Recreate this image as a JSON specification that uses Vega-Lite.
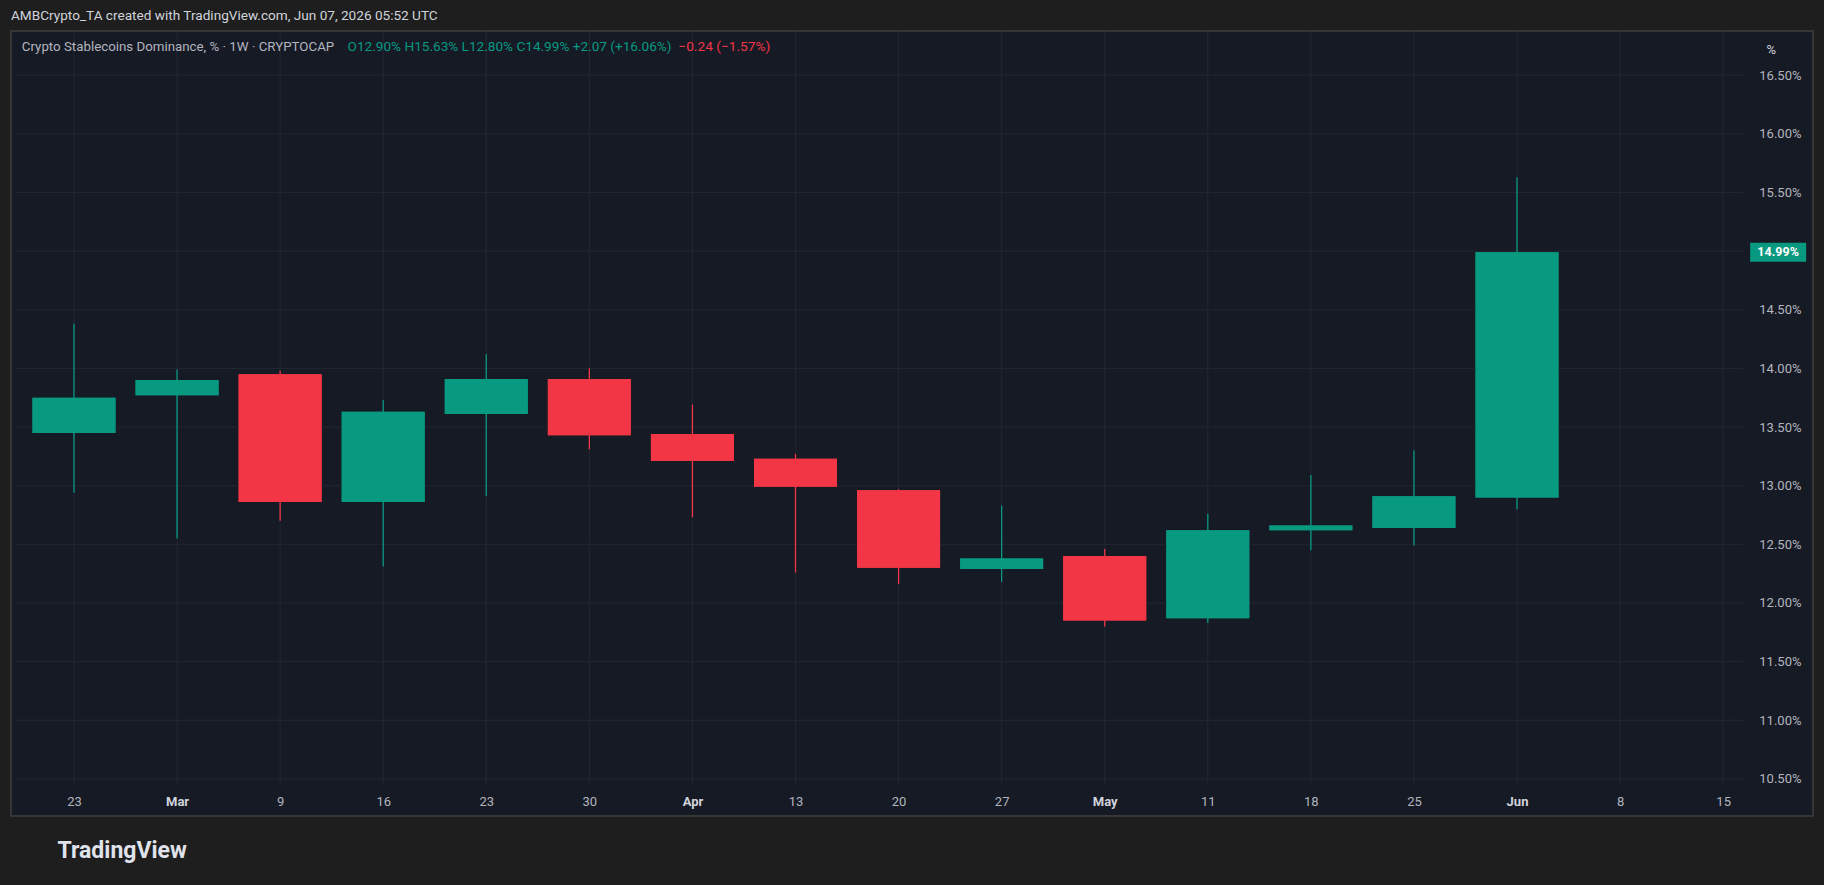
{
  "$schema": "https://vega.github.io/schema/vega-lite/v6.json",
  "width": 1802,
  "height": 785,
  "autosize": {"type": "none"},
  "padding": {"left": 11, "top": 31, "right": 11, "bottom": 69},
  "background": "#1e1e1e",
  "title": {
    "text": "AMBCrypto_TA created with TradingView.com, Jun 07, 2026 05:52 UTC",
    "anchor": "start",
    "frame": "group",
    "offset": 8,
    "font": "Roboto",
    "fontSize": 13.6,
    "fontWeight": "normal",
    "color": "#d1d4dc"
  },
  "config": {
    "view": {"fill": "#161a25", "stroke": "#363636", "strokeWidth": 2},
    "font": "Roboto",
    "axis": {"grid": false, "domain": false, "ticks": false, "tickSize": 0, "labelPadding": 0, "labelFlush": false, "labelOverlap": false}
  },
  "datasets": {
    "candles": [
      {"week": "2026-02-23", "open": 13.45, "high": 14.38, "low": 12.94, "close": 13.75},
      {"week": "2026-03-02", "open": 13.77, "high": 13.99, "low": 12.55, "close": 13.90},
      {"week": "2026-03-09", "open": 13.95, "high": 13.98, "low": 12.70, "close": 12.86},
      {"week": "2026-03-16", "open": 12.86, "high": 13.73, "low": 12.31, "close": 13.63},
      {"week": "2026-03-23", "open": 13.61, "high": 14.12, "low": 12.91, "close": 13.91},
      {"week": "2026-03-30", "open": 13.91, "high": 14.00, "low": 13.31, "close": 13.43},
      {"week": "2026-04-06", "open": 13.44, "high": 13.69, "low": 12.73, "close": 13.21},
      {"week": "2026-04-13", "open": 13.23, "high": 13.27, "low": 12.26, "close": 12.99},
      {"week": "2026-04-20", "open": 12.96, "high": 12.97, "low": 12.16, "close": 12.30},
      {"week": "2026-04-27", "open": 12.29, "high": 12.83, "low": 12.18, "close": 12.38},
      {"week": "2026-05-04", "open": 12.40, "high": 12.46, "low": 11.80, "close": 11.85},
      {"week": "2026-05-11", "open": 11.87, "high": 12.76, "low": 11.83, "close": 12.62},
      {"week": "2026-05-18", "open": 12.62, "high": 13.09, "low": 12.45, "close": 12.66},
      {"week": "2026-05-25", "open": 12.64, "high": 13.30, "low": 12.49, "close": 12.91},
      {"week": "2026-06-01", "open": 12.90, "high": 15.63, "low": 12.80, "close": 14.99}
    ],
    "weeks": [
      {"week": "2026-02-23"}, {"week": "2026-03-02"}, {"week": "2026-03-09"},
      {"week": "2026-03-16"}, {"week": "2026-03-23"}, {"week": "2026-03-30"},
      {"week": "2026-04-06"}, {"week": "2026-04-13"}, {"week": "2026-04-20"},
      {"week": "2026-04-27"}, {"week": "2026-05-04"}, {"week": "2026-05-11"},
      {"week": "2026-05-18"}, {"week": "2026-05-25"}, {"week": "2026-06-01"},
      {"week": "2026-06-08"}, {"week": "2026-06-15"}
    ],
    "levels": [
      {"level": 10.5}, {"level": 11.0}, {"level": 11.5}, {"level": 12.0},
      {"level": 12.5}, {"level": 13.0}, {"level": 13.5}, {"level": 14.0},
      {"level": 14.5}, {"level": 15.0}, {"level": 15.5}, {"level": 16.0},
      {"level": 16.5}
    ],
    "legend": [
      {
        "name": "Crypto Stablecoins Dominance, % · 1W · CRYPTOCAP",
        "ohlc": "O12.90% H15.63% L12.80% C14.99% +2.07 (+16.06%)",
        "change": "−0.24 (−1.57%)"
      }
    ],
    "last": [{"close": 14.99, "label": "14.99%"}]
  },
  "layer": [
    {
      "data": {"name": "candles"},
      "mark": {"type": "bar", "width": 83},
      "encoding": {
        "x": {
          "field": "week",
          "type": "temporal",
          "scale": {
            "type": "utc",
            "domain": [
              {"year": 2026, "month": 2, "date": 19, "hours": 1, "minutes": 30, "utc": true},
              {"year": 2026, "month": 6, "date": 20, "hours": 18, "minutes": 16, "utc": true}
            ]
          },
          "axis": {
            "values": [
              {"year": 2026, "month": 2, "date": 23, "utc": true},
              {"year": 2026, "month": 3, "date": 2, "utc": true},
              {"year": 2026, "month": 3, "date": 9, "utc": true},
              {"year": 2026, "month": 3, "date": 16, "utc": true},
              {"year": 2026, "month": 3, "date": 23, "utc": true},
              {"year": 2026, "month": 3, "date": 30, "utc": true},
              {"year": 2026, "month": 4, "date": 6, "utc": true},
              {"year": 2026, "month": 4, "date": 13, "utc": true},
              {"year": 2026, "month": 4, "date": 20, "utc": true},
              {"year": 2026, "month": 4, "date": 27, "utc": true},
              {"year": 2026, "month": 5, "date": 4, "utc": true},
              {"year": 2026, "month": 5, "date": 11, "utc": true},
              {"year": 2026, "month": 5, "date": 18, "utc": true},
              {"year": 2026, "month": 5, "date": 25, "utc": true},
              {"year": 2026, "month": 6, "date": 1, "utc": true},
              {"year": 2026, "month": 6, "date": 8, "utc": true},
              {"year": 2026, "month": 6, "date": 15, "utc": true}
            ],
            "labelExpr": "utcdate(datum.value) <= 7 ? utcFormat(datum.value, '%b') : utcFormat(datum.value, '%-d')",
            "labelFontWeight": {"condition": {"test": "utcdate(datum.value) <= 7", "value": "bold"}, "value": "normal"},
            "labelColor": {"condition": {"test": "utcdate(datum.value) <= 7", "value": "#d1d4dc"}, "value": "#b2b5be"},
            "labelFont": "Roboto",
            "labelFontSize": 13,
            "labelBaseline": "middle",
            "offset": -15,
            "title": "TradingView",
            "titleFont": "Roboto",
            "titleFontSize": 23,
            "titleFontWeight": "bold",
            "titleColor": "#e0e3eb",
            "titleAnchor": "start",
            "titleAlign": "left",
            "titleBaseline": "middle",
            "titleX": 46,
            "titleY": 49
          }
        },
        "y": {
          "field": "open",
          "type": "quantitative",
          "scale": {"domain": [10.184, 16.876], "nice": false, "zero": false},
          "axis": {
            "orient": "right",
            "values": [10.5, 11, 11.5, 12, 12.5, 13, 13.5, 14, 14.5, 15.5, 16, 16.5],
            "labelExpr": "format(datum.value, '.2f') + '%'",
            "labelAlign": "right",
            "labelBaseline": "middle",
            "labelFont": "Roboto",
            "labelFontSize": 13,
            "labelColor": "#b2b5be",
            "offset": -12,
            "title": "%",
            "titleAngle": 0,
            "titleFont": "Roboto",
            "titleFontSize": 13,
            "titleFontWeight": "normal",
            "titleColor": "#d1d4dc",
            "titleAlign": "left",
            "titleBaseline": "middle",
            "titleX": -35,
            "titleY": 18
          }
        },
        "y2": {"field": "close"},
        "color": {"condition": {"test": "datum.close >= datum.open", "value": "#089981"}, "value": "#f23645"}
      }
    },
    {
      "data": {"name": "weeks"},
      "mark": {"type": "rule", "color": "#232733", "strokeWidth": 1},
      "encoding": {
        "x": {"field": "week", "type": "temporal"},
        "y": {"datum": 10.448, "type": "quantitative"},
        "y2": {"datum": 16.876}
      }
    },
    {
      "data": {"name": "levels"},
      "mark": {"type": "rule", "color": "#232733", "strokeWidth": 1},
      "encoding": {
        "y": {"field": "level", "type": "quantitative"},
        "x": {"datum": {"year": 2026, "month": 2, "date": 19, "hours": 1, "minutes": 30, "utc": true}, "type": "temporal"},
        "x2": {"datum": {"year": 2026, "month": 6, "date": 16, "hours": 8, "minutes": 54, "utc": true}}
      }
    },
    {
      "data": {"name": "candles"},
      "mark": {"type": "rule", "strokeWidth": 1.3},
      "encoding": {
        "x": {"field": "week", "type": "temporal"},
        "y": {"field": "low", "type": "quantitative"},
        "y2": {"field": "high"},
        "color": {"condition": {"test": "datum.close >= datum.open", "value": "#089981"}, "value": "#f23645"}
      }
    },
    {
      "data": {"name": "candles"},
      "mark": {"type": "bar", "width": 83},
      "encoding": {
        "x": {"field": "week", "type": "temporal"},
        "y": {"field": "open", "type": "quantitative"},
        "y2": {"field": "close"},
        "color": {"condition": {"test": "datum.close >= datum.open", "value": "#089981"}, "value": "#f23645"}
      }
    },
    {
      "data": {"name": "legend"},
      "mark": {"type": "text", "align": "left", "baseline": "middle", "font": "Roboto", "fontSize": 13.3, "color": "#b2b5be"},
      "encoding": {
        "x": {"datum": {"year": 2026, "month": 2, "date": 19, "hours": 11, "minutes": 0, "utc": true}, "type": "temporal"},
        "y": {"datum": 16.737, "type": "quantitative"},
        "text": {"field": "name"}
      }
    },
    {
      "data": {"name": "legend"},
      "mark": {"type": "text", "align": "left", "baseline": "middle", "font": "Roboto", "fontSize": 13.6, "color": "#089981"},
      "encoding": {
        "x": {"datum": {"year": 2026, "month": 3, "date": 13, "hours": 14, "minutes": 0, "utc": true}, "type": "temporal"},
        "y": {"datum": 16.737, "type": "quantitative"},
        "text": {"field": "ohlc"}
      }
    },
    {
      "data": {"name": "legend"},
      "mark": {"type": "text", "align": "left", "baseline": "middle", "font": "Roboto", "fontSize": 13.7, "color": "#f23645"},
      "encoding": {
        "x": {"datum": {"year": 2026, "month": 4, "date": 5, "hours": 1, "minutes": 0, "utc": true}, "type": "temporal"},
        "y": {"datum": 16.737, "type": "quantitative"},
        "text": {"field": "change"}
      }
    },
    {
      "data": {"name": "last"},
      "mark": {"type": "tick", "orient": "horizontal", "size": 56, "thickness": 19, "color": "#089981", "opacity": 1},
      "encoding": {
        "x": {"datum": {"year": 2026, "month": 6, "date": 18, "hours": 17, "minutes": 36, "utc": true}, "type": "temporal"},
        "y": {"field": "close", "type": "quantitative"}
      }
    },
    {
      "data": {"name": "last"},
      "mark": {"type": "text", "align": "center", "baseline": "middle", "font": "Roboto", "fontSize": 12.5, "fontWeight": "bold", "color": "#ffffff"},
      "encoding": {
        "x": {"datum": {"year": 2026, "month": 6, "date": 18, "hours": 17, "minutes": 36, "utc": true}, "type": "temporal"},
        "y": {"field": "close", "type": "quantitative"},
        "text": {"field": "label"}
      }
    }
  ]
}
